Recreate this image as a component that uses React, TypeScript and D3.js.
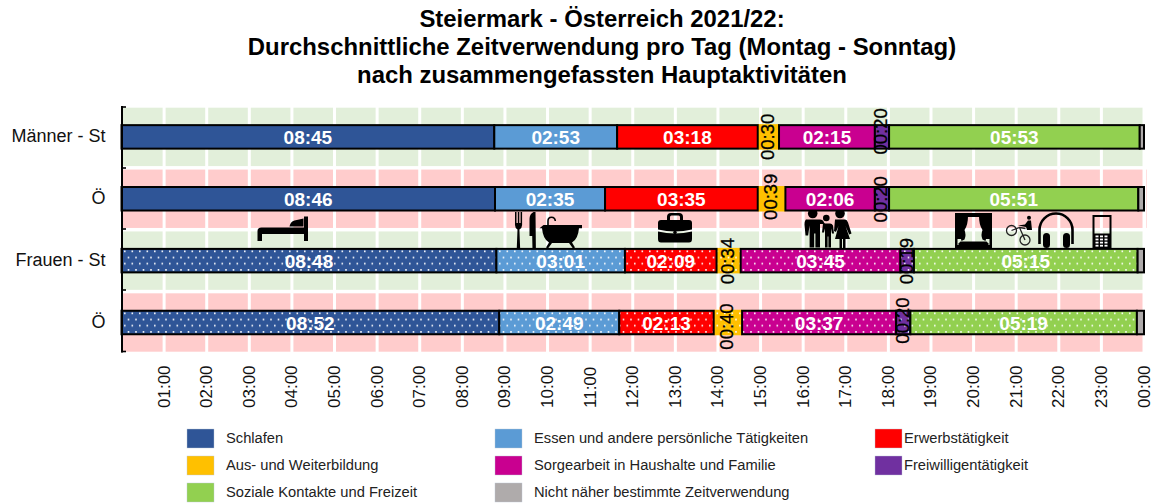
import React from "react";
import * as d3 from "d3";

const titleLines = [
  "Steiermark - Österreich 2021/22:",
  "Durchschnittliche Zeitverwendung pro Tag (Montag - Sonntag)",
  "nach zusammengefassten  Hauptaktivitäten",
];
const rows = ["Männer - St", "Ö", "Frauen - St", "Ö"];
const activities = [
  "Schlafen",
  "Essen und andere persönliche Tätigkeiten",
  "Erwerbstätigkeit",
  "Aus- und Weiterbildung",
  "Sorgearbeit in Haushalte und Familie",
  "Freiwilligentätigkeit",
  "Soziale Kontakte und Freizeit",
  "Nicht näher bestimmte Zeitverwendung",
];
const colors = ["#2F5597", "#5B9BD5", "#FF0000", "#FFC000", "#C90090", "#7030A0", "#92D050", "#AFABAB"];
// minutes per activity
const maennerSt = [525, 173, 198, 30, 135, 20, 353, 6];
const maennerOe = [526, 155, 215, 39, 126, 20, 351, 8];
const frauenSt = [528, 181, 129, 34, 225, 19, 315, 9];
const frauenOe = [532, 169, 133, 40, 217, 20, 319, 10];
const series = [maennerSt, maennerOe, frauenSt, frauenOe];
const hourTicks = d3.range(1, 25);

const FONT = "'Liberation Sans', Arial, sans-serif";
const x = d3.scaleLinear().domain([0, 1440]).range([121.5, 1144]);
const y = d3.scaleBand<number>().domain([0, 1, 2, 3]).range([107.7, 351.7]).paddingInner(0.0565);
const axisTicks = [107, 168, 229, 290, 351.5];
const BAR_H = 23.5;
const fmt = (m: number) => `${String(Math.floor(m / 60)).padStart(2, "0")}:${String(m % 60).padStart(2, "0")}`;
// vertical nudges of the rotated small labels, by row
const smallShift: Record<string, number> = { "0-3": 0, "0-5": -5.5, "1-3": -2, "1-5": 0.5, "2-3": 0.5, "2-5": 0.5, "3-3": 4, "3-5": -2 };
const drawOrder = [3, 0, 1, 2, 4, 5, 6, 7];

const legendCols = [187, 495, 875];
const legendRows = [429, 456, 483];
const legendTextDx = [39, 39, 29];

function Icons() {
  return (
    <g fill="#000">
      {/* bed */}
      <path d="M257.5 241V231q0-3.5 4-3.5H304v6.5H262v7z" />
      <path d="M289.5 226.5q1-5 5-6l9-2v8z" />
      <rect x={304} y={216.5} width={4} height={24.5} />
      {/* fork */}
      <path d="M515 212h1.5v11h1.3v-11h1.5v11h1.3v-11h1.5v13q0 3-2.7 4.5l.8 20.5h-3.5l.8-20.5q-2.5-1.5-2.5-4.5z" />
      {/* knife */}
      <path d="M529.5 236V219q0-5 4-7h2l.4 38h-3.4l-.3-14z" />
      {/* bath */}
      <path d="M543.5 225h38.5v3.2H579q-1 11-7 14.3l3 5-2 1-4-5.5h-17l-4 5.5-2-1 3-5q-6-3.3-7-14.3h-2.5z" />
      <path d="M548 225v-4q0-3.8 3.5-3.8t3.8 3.8" fill="none" stroke="#000" strokeWidth={1.6} />
      {/* briefcase */}
      <path fillRule="evenodd" d="M667 220v-3q0-4 4-4h8q4 0 4 4v3h6q3 0 3 3v6.5q-17 4-34 0V223q0-3 3-3zm3 0h10v-3q0-1.5-1.5-1.5h-7q-1.5 0-1.5 1.5z" />
      <path d="M658 231.5q17 4 34 0V239q0 3.5-3 3.5h-28q-3 0-3-3.5z" />
      <circle cx={675} cy={232.5} r={1.8} />
      {/* family */}
      <circle cx={812.7} cy={213.5} r={4.8} />
      <circle cx={826.3} cy={218} r={3.3} />
      <circle cx={840} cy={213.5} r={4.8} />
      <path d="M806 219.5h14q3 0 4 3l1 1.5h-5v23.5h-4.6v-14h-1.2v14h-4.6v-22l-1.5 10h-2.6l-1-11q0-5 2.5-5.5z" />
      <path d="M823 223.5h7q2 0 3 2l1 8h-2l-1-5v19h-2.6v-11h-.8v11H825v-19l-1 4h-2z" />
      <path d="M835 219.5h10q2 0 3 3l3.5 11-2.3 1-3.7-8.5 4.5 13h-4.5v10h-2.5v-10h-1v10h-2.5v-10H835l3.5-13-2.5 6-2-1z" />
      {/* theatre */}
      <path fillRule="evenodd" d="M955 213h37v35h-37zm2.5 4v28h32v-28z" />
      <path d="M957 216h11q0 9-3.5 14 2 5 0 9.5l-3 1.5-.5-2-4 0z" />
      <path d="M990 216h-11q0 9 3.5 14-2 5 0 9.5l3 1.5.5-2 4 0z" />
      <path d="M958.5 243.5l2-2h26l2 2v4.5h-30z" />
      {/* bike */}
      <g fill="none" stroke="#222" strokeWidth={1.3}>
        <circle cx={1011.5} cy={230.5} r={5} />
        <circle cx={1025} cy={240} r={5} />
        <path d="M1011.5 230.5l8-3 5.5 12.5M1019.5 227.5l6 1" />
      </g>
      <circle cx={1029} cy={217.8} r={2} />
      <path d="M1018 225.5l7-1 3-4h3l1 9.5h-5l-1-3z" />
      {/* headphones */}
      <path d="M1039.5 244v-14a16.5 16.5 0 0 1 33 0v14" fill="none" stroke="#000" strokeWidth={2.6} />
      <rect x={1043} y={233} width={7} height={15} rx={3.5} />
      <rect x={1063} y={233} width={7} height={15} rx={3.5} />
      {/* phone */}
      <path fillRule="evenodd" d="M1092.5 215h19v33h-19zm2 2v16.5h15V217z" />
      <g fill="#fff">
        {d3.range(12).map((i) => (
          <rect key={i} x={1095.5 + (i % 3) * 4.5} y={235.5 + Math.floor(i / 3) * 3.1} width={3} height={1.8} />
        ))}
      </g>
    </g>
  );
}

export default function App() {
  return (
    <svg width={1153} height={503} style={{ position: "absolute", left: 0, top: 0, fontFamily: FONT }}>
      <defs>
        <pattern id="dots" width={15} height={12.4} patternUnits="userSpaceOnUse" x={122} y={125}>
          <rect x={2} y={1.5} width={1.6} height={1.6} fill="#fff" />
          <rect x={9.5} y={1.5} width={1.6} height={1.6} fill="#fff" />
          <rect x={5.7} y={7.7} width={1.6} height={1.6} fill="#fff" />
          <rect x={13.2} y={7.7} width={1.6} height={1.6} fill="#fff" />
        </pattern>
      </defs>
      <rect width={1153} height={503} fill="#fff" />
      {titleLines.map((t, i) => (
        <text key={i} x={602} y={27 + i * 28} textAnchor="middle" fontSize={23.9} fontWeight={700} fill="#000">
          {t}
        </text>
      ))}

      {/* row backgrounds */}
      {rows.map((_, i) => (
        <rect key={i} x={x(0)} y={y(i)} width={x(1440) - x(0)} height={y.bandwidth()} fill={i === 0 || i === 2 ? "#E2EFDA" : "#FFCCCC"} />
      ))}
      <rect x={1146} y={y(1)} width={1} height={y.bandwidth()} fill="#FFCCCC" opacity={0.6} />
      {hourTicks.map((h) => (
        <line key={h} x1={x(h * 60)} x2={x(h * 60)} y1={107} y2={352} stroke="#fff" strokeWidth={3} />
      ))}

      <Icons />

      {/* bars */}
      {series.map((vals, r) => {
        const cum = d3.cumsum(vals);
        const cy = y(r)! + y.bandwidth() / 2;
        return (
          <g key={r}>
            {drawOrder.map((i) => {
              const v = vals[i];
              const x0 = x(cum[i] - v);
              const x1 = x(cum[i]);
              const gold = i === 3;
              return (
                <g key={i}>
                  <rect
                    x={x0}
                    y={cy - BAR_H / 2 - (gold ? 1 : 0)}
                    width={x1 - x0}
                    height={BAR_H + (gold ? 2 : 0)}
                    fill={colors[i]}
                    stroke={gold ? "none" : "#000"}
                    strokeWidth={2}
                  />
                  {r >= 2 && i !== 7 && <rect x={x0 + 1} y={cy - BAR_H / 2 + 1} width={x1 - x0 - 2} height={BAR_H - 2} fill="url(#dots)" />}
                </g>
              );
            })}
            {vals.map((v, i) => {
              const mid = x(cum[i] - v / 2);
              if (i === 7) return null;
              if (v < 60) {
                const sy = cy + (smallShift[`${r}-${i}`] ?? 0);
                return (
                  <text key={i} transform={`translate(${mid + 5.5},${sy}) rotate(-90)`} textAnchor="middle" fontSize={18.5} fill="#000" stroke="#000" strokeWidth={0.3}>
                    {fmt(v)}
                  </text>
                );
              }
              return (
                <text key={i} x={mid} y={cy + 7} textAnchor="middle" fontSize={19} fontWeight={700} fill="#fff">
                  {fmt(v)}
                </text>
              );
            })}
          </g>
        );
      })}

      {/* y axis */}
      <line x1={122} x2={122} y1={106} y2={352.5} stroke="#000" strokeWidth={2} />
      {axisTicks.map((t) => (
        <line key={t} x1={121} x2={126} y1={t} y2={t} stroke="#000" strokeWidth={1.6} />
      ))}
      {rows.map((r, i) => (
        <text key={i} x={105.5} y={y(i)! + y.bandwidth() / 2 + 5} textAnchor="end" fontSize={18} fill="#111">
          {r}
        </text>
      ))}

      {/* x labels */}
      {hourTicks.map((h) => (
        <text key={h} transform={`translate(${x(h * 60) + 5.5},${408}) rotate(-90)`} fontSize={17} fill="#111">
          {h === 24 ? "00:00" : `${String(h).padStart(2, "0")}:00`}
        </text>
      ))}

      {/* legend */}
      {activities.map((a, i) => {
        const c = i % 3;
        const r = Math.floor(i / 3);
        return (
          <g key={a}>
            <rect x={legendCols[c]} y={legendRows[r]} width={27} height={19} fill={colors[i]} stroke="#bcc8d8" strokeWidth={0.4} />
            <text x={legendCols[c] + legendTextDx[c]} y={legendRows[r] + 14} fontSize={14.7} fill="#222">
              {a}
            </text>
          </g>
        );
      })}
    </svg>
  );
}
